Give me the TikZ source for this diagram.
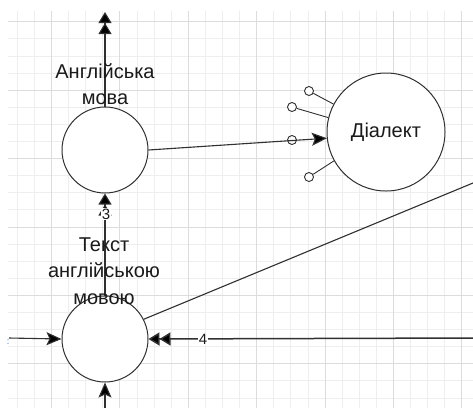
\documentclass[tikz,border=0pt]{standalone}
\usepackage{fontspec}
\setmainfont{Liberation Sans}
\usetikzlibrary{arrows.meta}
\definecolor{gridminor}{HTML}{EEEEEE}
\definecolor{gridmajor}{HTML}{DCDCDC}
\definecolor{ink}{HTML}{303030}
\definecolor{txt}{HTML}{1A1A1A}
\definecolor{tagblue}{HTML}{3070D0}
\begin{document}
\begin{tikzpicture}[x=1pt,y=-1pt,
  proc/.style={circle,draw=ink,line width=1pt,fill=white,inner sep=0pt,minimum size=86pt},
  port/.style={circle,draw=ink,line width=0.9pt,fill=white,inner sep=0pt,minimum size=9pt},
  flow/.style={draw=ink,line width=1.1pt},
  onehead/.style={-{Stealth[length=15pt,width=13pt,inset=3pt,fill=black]}},
  twohead/.style={-{Triangle[length=11pt,width=13pt,fill=black]Triangle[length=11pt,width=13pt,fill=black]}},
  lbl/.style={text=txt,align=center,font=\fontsize{20}{26.5}\selectfont,inner sep=0pt},
  num/.style={text=txt,fill=white,font=\fontsize{15}{17}\selectfont,inner sep=1pt}]
\useasboundingbox (0,0) rectangle (473,408);
\fill[white] (0,0) rectangle (473,408);
% background grid
\foreach \k in {1,...,27}
  \draw[gridminor,line width=0.8pt] ({0.1+17.1*\k},11) -- ({0.1+17.1*\k},408);
\foreach \j in {0,...,22}
  \draw[gridminor,line width=0.8pt] (8,{21.7+17.1*\j}) -- (473,{21.7+17.1*\j});
\foreach \k in {3,7,...,27}
  \draw[gridmajor,line width=0.8pt] ({0.1+17.1*\k},11) -- ({0.1+17.1*\k},408);
\foreach \j in {0,4,...,20}
  \draw[gridmajor,line width=0.8pt] (8,{21.7+17.1*\j}) -- (473,{21.7+17.1*\j});

% processes
\node[proc] (A) at (105,150) {};
\node[proc] (C) at (105,339) {};
\node[proc,minimum size=118pt,font=\fontsize{20}{24}\selectfont,text=txt] (B) at (386,132) {Діалект};

% free ends of flows
\coordinate (topEnd) at (105,12);
\coordinate (rightUp) at (473,183);
\coordinate (rightIn) at (473,338);
\coordinate (leftIn) at (9,338);
\coordinate (bottomIn) at (105,408);

% flows
\draw[flow,twohead] (A.north) -- (topEnd);
\draw[flow,onehead] (A.east) -- (B.186);
\draw[flow,twohead] (C.north) -- (A.south);
\draw[flow] (C.27) -- (rightUp);
\draw[flow,twohead,line width=1.5pt] (rightIn) -- (C.east);
\draw[flow,onehead] (leftIn) -- (C.west);
\draw[flow,onehead] (bottomIn) -- (C.south);

% ports of the dialect process
\node[port] (p1) at (309,91) {};
\node[port] (p2) at (292,107) {};
\node[port,fill=none] (p3) at (292,140) {};
\node[port] (p4) at (309,177) {};
\draw[flow,line width=0.9pt] (p1) -- (B.152);
\draw[flow,line width=0.9pt] (p2) -- (B.166);
\draw[flow,line width=0.9pt] (p4) -- (B.209);

% labels
\node[lbl] (tA) at (105,84) {Англійська\\мова};
\node[lbl] (tC) at (104,271) {Текст\\англійською\\мовою};
\node[num] (n3) at (106,214) {3};
\node[num] (n4) at (203,339) {4};
\node[text=tagblue,font=\fontsize{9}{10}\selectfont,inner sep=0pt] (tag) at (8,342) {:};
\end{tikzpicture}
\end{document}
